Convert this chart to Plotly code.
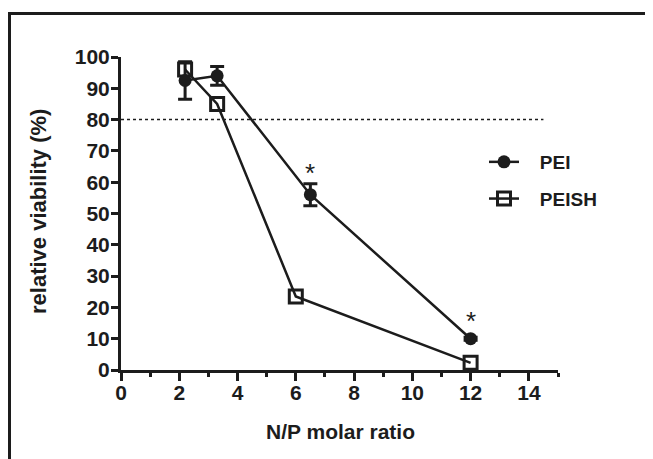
import plotly.graph_objects as go

# ---- data ----
pei_x = [2.2, 3.3, 6.5, 12]
pei_y = [92.5, 94, 56, 10]
pei_err = [6, 3, 3.5, 0.5]

peish_x = [2.2, 3.3, 6, 12]
peish_y = [96, 85, 23.5, 2.3]

star_x = [6.5, 12]
star_y = [63, 15.5]

threshold = 80
threshold_end = 14.5

x_ticks = [0, 2, 4, 6, 8, 10, 12, 14]
y_ticks = [0, 10, 20, 30, 40, 50, 60, 70, 80, 90, 100]

INK = "#1c1c1c"
FONT = "Liberation Sans, Arial, sans-serif"
NB = "\u00a0\u00a0\u00a0"

# page offset (body margin 8px); plot area in page px: x 121..558, y 57..370
W, H = 645, 451
PL, PR, PT, PB = 121, 558, 57, 370


def px(xp):
    return (xp - PL) / (PR - PL)


def py(yp):
    return (PB - yp) / (PB - PT)


fig = go.Figure()

fig.add_trace(go.Scatter(
    x=[0, threshold_end], y=[threshold, threshold], mode="lines",
    line=dict(color=INK, width=1.5, dash="dot"), showlegend=False, hoverinfo="skip"))

fig.add_trace(go.Scatter(
    x=peish_x, y=peish_y, mode="lines+markers", name=NB + "PEISH",
    line=dict(color=INK, width=2.5),
    marker=dict(symbol="square-open", size=13, color=INK, line=dict(width=3, color=INK)),
    legendrank=2, legendgroup="b", cliponaxis=False))

fig.add_trace(go.Scatter(
    x=pei_x, y=pei_y, mode="lines+markers", name=NB + "PEI",
    line=dict(color=INK, width=2.5),
    marker=dict(symbol="circle", size=13, color=INK),
    error_y=dict(type="data", array=pei_err, color=INK, thickness=3, width=7),
    legendrank=1, legendgroup="a", cliponaxis=False))

for sx, sy in zip(star_x, star_y):
    fig.add_annotation(x=sx, y=sy, text="*", showarrow=False,
                       font=dict(size=26, color=INK, family=FONT))

# axis titles
fig.add_annotation(xref="paper", yref="paper", x=px(340), y=py(432),
                   xanchor="center", yanchor="middle",
                   text="N/P molar ratio", showarrow=False,
                   font=dict(size=21, color=INK, family=FONT, weight="bold"))
fig.add_annotation(xref="paper", yref="paper", x=px(38), y=py(212),
                   xanchor="center", yanchor="middle",
                   text="relative viability (%)", showarrow=False, textangle=-90,
                   font=dict(size=22, color=INK, family=FONT, weight="bold"))

# outer frame (cropped on right and bottom)
fig.add_shape(type="rect", xref="paper", yref="paper",
              x0=px(9.5), x1=px(700), y0=py(520), y1=py(13.5),
              line=dict(color=INK, width=3), fillcolor="rgba(0,0,0,0)", layer="above")

fig.update_layout(
    width=W, height=H,
    margin=dict(l=PL - 8, r=W - (PR - 8), t=PT - 8, b=H - (PB - 8)),
    paper_bgcolor="white", plot_bgcolor="white",
    font=dict(family=FONT, color=INK),
    showlegend=True,
    legend=dict(x=px(484), y=py(143), xanchor="left", yanchor="top",
                bgcolor="rgba(0,0,0,0)", tracegroupgap=9,
                font=dict(size=19, color=INK, family=FONT, weight="bold")),
    xaxis=dict(range=[0, 15], tickvals=x_ticks, showgrid=False, zeroline=False,
               showline=True, linecolor=INK, linewidth=3,
               ticks="outside", ticklen=8, tickwidth=2.5, tickcolor=INK,
               ticklabelstandoff=-6,
               tickfont=dict(size=21, color=INK, family=FONT, weight="bold"),
               minor=dict(dtick=1, ticks="outside", ticklen=4, tickwidth=2.5, tickcolor=INK)),
    yaxis=dict(range=[0, 100], tickvals=y_ticks, showgrid=False, zeroline=False,
               showline=True, linecolor=INK, linewidth=3,
               ticks="outside", ticklen=7, tickwidth=2.5, tickcolor=INK,
               ticklabelstandoff=-3,
               tickfont=dict(size=21, color=INK, family=FONT, weight="bold")),
)

fig.write_html("out.html")
